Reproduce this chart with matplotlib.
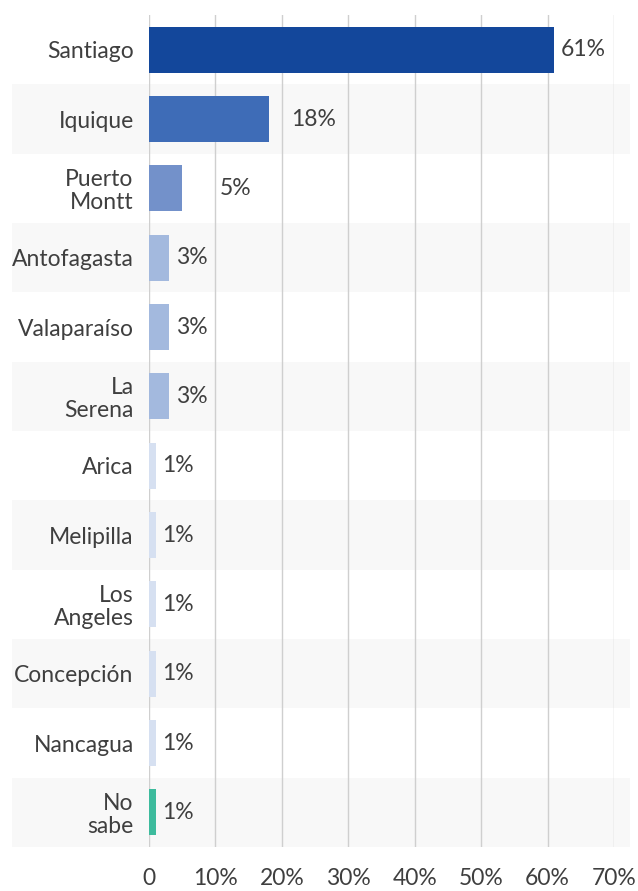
import matplotlib
matplotlib.use("Agg")
import matplotlib.pyplot as plt

categories = ["Santiago", "Iquique", "Puerto\nMontt", "Antofagasta", "Valaparaíso",
              "La\nSerena", "Arica", "Melipilla", "Los\nAngeles", "Concepción",
              "Nancagua", "No\nsabe"]
values = [61, 18, 5, 3, 3, 3, 1, 1, 1, 1, 1, 1]
value_labels = ["61%", "18%", "5%", "3%", "3%", "3%", "1%", "1%", "1%", "1%", "1%", "1%"]
x_ticks = [0, 10, 20, 30, 40, 50, 60, 70]
x_ticklabels = ["0", "10%", "20%", "30%", "40%", "50%", "60%", "70%"]

# styling
bar_colors = ["#13479b", "#3e6cb7", "#7391ca", "#a3b9de", "#a3b9de", "#a3b9de",
              "#d6e0f1", "#d6e0f1", "#d6e0f1", "#d6e0f1", "#d6e0f1", "#3dbb9d"]
label_pad_pts = [5, 16, 27, 5, 5, 5, 5, 5, 5, 5, 5, 5]
text_color = "#3f3f3f"
plt.rcParams['font.family'] = ['Lato', 'DejaVu Sans']
FS = 16.5

fig = plt.figure(figsize=(6.38, 8.91), dpi=100)
ax = fig.add_axes([149/638, 1-847/891, (614-149)/638, (847-15)/891])

n = len(categories)
ypos = list(range(n))
ax.set_ylim(n - 0.5, -0.5)
ax.set_xlim(0, 70)

# alternating background bands
for i in ypos:
    if i % 2 == 1:
        ax.axhspan(i - 0.5, i + 0.5, xmin=-0.295, xmax=1.034, color="#f8f8f8",
                   clip_on=False, zorder=0, lw=0)

bars = ax.barh(ypos, values, height=0.66, color=bar_colors, zorder=3)

for b, lab, pad in zip(bars, value_labels, label_pad_pts):
    ax.annotate(lab, xy=(b.get_width(), b.get_y() + b.get_height()/2),
                xytext=(pad, 0), textcoords="offset points",
                ha="left", va="center", fontsize=FS, color=text_color, zorder=4)

ax.set_yticks(ypos)
ax.set_yticklabels(categories, fontsize=FS, color=text_color, linespacing=1.1)
ax.set_xticks(x_ticks)
ax.set_xticklabels(x_ticklabels, fontsize=FS, color=text_color)
ax.tick_params(axis="both", length=0)
ax.tick_params(axis="y", pad=11)
ax.tick_params(axis="x", pad=15)

ax.grid(axis="x", color="#cfcfcf", lw=1, zorder=1)
ax.set_axisbelow(True)
for s in ax.spines.values():
    s.set_visible(False)
ax.patch.set_alpha(0)

fig.savefig("out.png", dpi=100)
